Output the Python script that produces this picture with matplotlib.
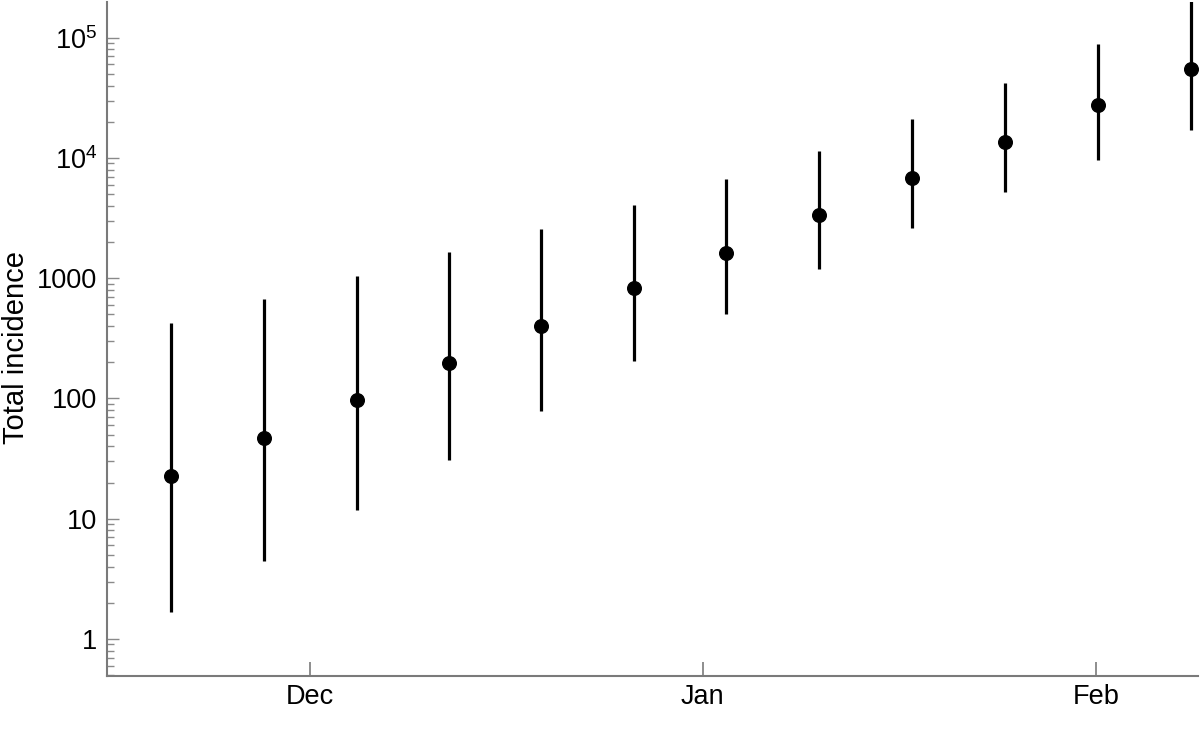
import matplotlib
matplotlib.use("Agg")
import matplotlib.pyplot as plt
from matplotlib.ticker import LogLocator, FixedLocator, FixedFormatter, NullFormatter

plt.rcParams['font.family'] = ['Liberation Sans', 'DejaVu Sans']
plt.rcParams['mathtext.fontset'] = 'custom'
plt.rcParams['mathtext.rm'] = 'Liberation Sans'
plt.rcParams['mathtext.it'] = 'Liberation Sans'

# x: days relative to 1 Dec
days = [-10.94, -3.63, 3.71, 10.99, 18.26, 25.55, 32.85, 40.19, 47.52, 54.83, 62.14, 69.48]
median = [22.7, 47, 97, 199, 404, 821, 1626, 3350, 6750, 13550, 27540, 55200]
lower = [1.69, 4.46, 11.8, 30.8, 79.3, 203, 503, 1191, 2626, 5200, 9660, 17170]
upper = [428, 670, 1047, 1636, 2541, 4055, 6623, 11330, 21080, 42000, 88700, 200000]

month_ticks = [0, 31, 62]
month_labels = ["Dec", "Jan", "Feb"]
y_ticks = [1, 10, 100, 1000, 1e4, 1e5]
y_labels = ["1", "10", "100", "1000", r"$10^4$", r"$10^5$"]

fig = plt.figure(figsize=(12, 7.51), dpi=100)
ax = fig.add_axes([107/1200, (751-675.7)/751, (1198-107)/1200, (675.7-2)/751])

ax.vlines(days, lower, upper, colors='black', linewidth=2.3)
ax.plot(days, median, 'o', color='black', markersize=9.8, linestyle='none')

ax.set_yscale('log')
ax.set_ylim(0.495, 1.98e5)
ax.set_xlim(-15.99, 70.05)

ax.yaxis.set_major_locator(FixedLocator(y_ticks))
ax.yaxis.set_major_formatter(FixedFormatter(y_labels))
ax.yaxis.set_minor_locator(LogLocator(base=10, subs=range(2, 10), numticks=20))
ax.yaxis.set_minor_formatter(NullFormatter())

ax.xaxis.set_major_locator(FixedLocator(month_ticks))
ax.xaxis.set_major_formatter(FixedFormatter(month_labels))

for s in ['top', 'right']:
    ax.spines[s].set_visible(False)
for s in ['left', 'bottom']:
    ax.spines[s].set_color('#7a7a7a')
    ax.spines[s].set_linewidth(1.5)

ax.tick_params(axis='y', which='major', direction='in', length=8.4, width=1.0,
               color='#8a8a8a', labelsize=19.5, pad=7, labelcolor='black')
ax.tick_params(axis='y', which='minor', direction='in', length=4.8, width=1.0,
               color='#8a8a8a')
ax.tick_params(axis='x', which='major', direction='in', length=10, width=1.2,
               color='#7a7a7a', labelsize=19.5, pad=6, labelcolor='black')

ax.set_ylabel("Total incidence", fontsize=21)
ax.yaxis.set_label_coords(-0.071, 0.487)

fig.savefig("out.png", dpi=100)
